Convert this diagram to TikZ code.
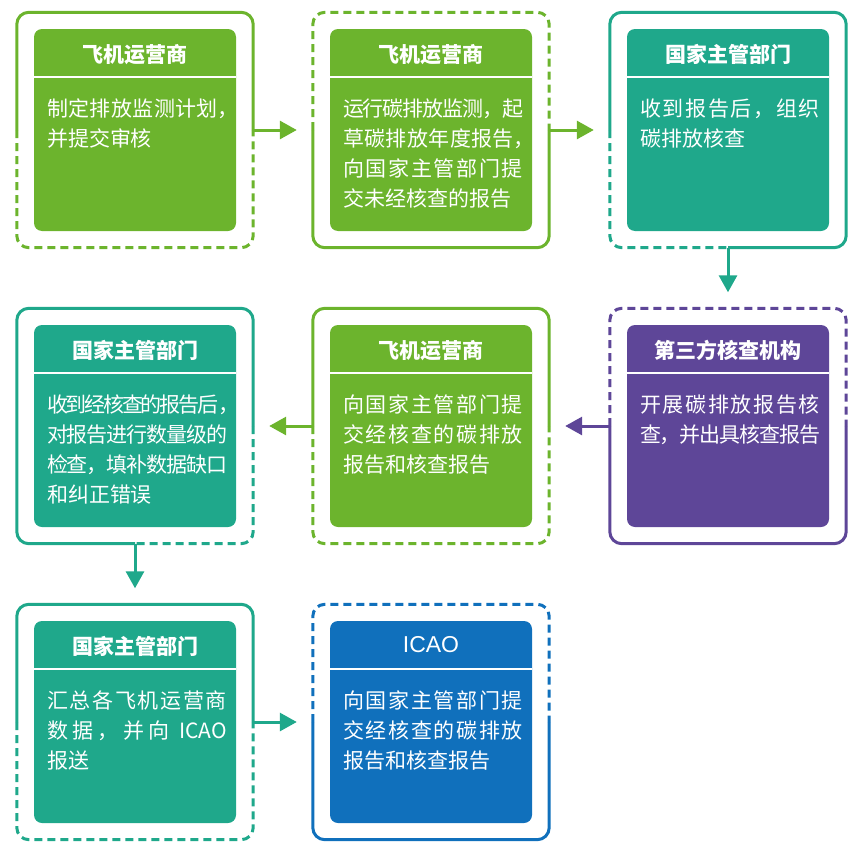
\documentclass[tikz,border=0pt]{standalone}
\usepackage{fontspec}
\usepackage{tikz}
\usetikzlibrary{positioning,arrows.meta}
\newfontfamily\cjk{Noto Sans CJK SC}
\newfontfamily\latin{Liberation Sans}
\definecolor{cgreen}{HTML}{6CB42D}
\definecolor{cteal}{HTML}{1FA88B}
\definecolor{cpurple}{HTML}{5E4698}
\definecolor{cblue}{HTML}{1070BC}
% glue between CJK characters, so lines can be justified
\newcount\cjkcode
\cjkcode="4E00
\loop
  \XeTeXcharclass\cjkcode=1
  \advance\cjkcode by 1
\ifnum\cjkcode<"A000 \repeat
\XeTeXcharclass"FF0C=3
\XeTeXinterchartoks 1 1 = {\hskip 0pt plus 2pt minus 3pt}
\XeTeXinterchartoks 1 3 = {\hskip 0pt plus 2pt minus 3pt}
\XeTeXinterchartoks 3 1 = {\hskip 0pt plus 2pt minus 3pt}
\newcommand{\jl}[1]{\makebox[180pt][s]{#1}}
\newcommand{\hc}{\makebox[9pt][l]{，}}

\begin{document}
\XeTeXinterchartokenstate=1
\begin{tikzpicture}[x=1pt,y=-1pt,
  outer/.style={minimum width=236pt,minimum height=235pt,inner sep=0pt},
  inner/.style={rounded corners=8pt,minimum width=202pt,minimum height=202pt,inner sep=0pt},
  frame/.style={line width=3pt,rounded corners=12pt},
  dashframe/.style={frame,dash pattern=on 8pt off 5pt},
  title/.style={text=white,font=\cjk\bfseries\fontsize{21}{24}\selectfont,inner sep=0pt},
  body/.style={text=white,font=\cjk\fontsize{21}{30}\selectfont,align=left,inner sep=0pt,anchor=north west},
  sepline/.style={white,line width=1.5pt},
  link/.style={line width=3pt,-{Triangle[length=17pt,width=18pt]}}]
  \useasboundingbox (0,0) rectangle (868,862);

  \node[outer] (o1) at (135,130) {};
  \node[outer] (o2) at (431,130) {};
  \node[outer] (o3) at (728,130) {};
  \node[outer] (o4) at (135,426) {};
  \node[outer] (o5) at (431,426) {};
  \node[outer] (o6) at (728,426) {};
  \node[outer] (o7) at (135,722) {};
  \node[outer] (o8) at (431,722) {};

  % row 1
  \node[inner,fill=cgreen] (i1) at (o1) {};
  \node[title] (t1) at ([yshift=-25.5pt]i1.north) {飞机运营商};
  \draw[sepline] ([yshift=-48pt]i1.north west) -- ([yshift=-48pt]i1.north east);
  \node[body] (b1) at ([xshift=13pt,yshift=-70pt]i1.north west) {\jl{制定排放监测计划\hc}\\并提交审核};
  \draw[frame,cgreen] (o1.west) |- (o1.north) -| (o1.east);
  \draw[dashframe,cgreen] (o1.west) |- (o1.south) -| (o1.east);

  \node[inner,fill=cgreen] (i2) at (o2) {};
  \node[title] (t2) at ([yshift=-25.5pt]i2.north) {飞机运营商};
  \draw[sepline] ([yshift=-48pt]i2.north west) -- ([yshift=-48pt]i2.north east);
  \node[body] (b2) at ([xshift=13pt,yshift=-70pt]i2.north west) {\jl{运行碳排放监测，起}\\\jl{草碳排放年度报告\hc}\\\jl{向国家主管部门提}\\交未经核查的报告};
  \draw[dashframe,cgreen] (o2.west) |- (o2.north) -| (o2.east);
  \draw[frame,cgreen] (o2.west) |- (o2.south) -| (o2.east);

  \node[inner,fill=cteal] (i3) at (o3) {};
  \node[title] (t3) at ([yshift=-25.5pt]i3.north) {国家主管部门};
  \draw[sepline] ([yshift=-48pt]i3.north west) -- ([yshift=-48pt]i3.north east);
  \node[body] (b3) at ([xshift=13pt,yshift=-70pt]i3.north west) {\jl{收到报告后，组织}\\碳排放核查};
  \draw[frame,cteal] (o3.west) |- (o3.north) -| (o3.east) |- (o3.south);
  \draw[dashframe,cteal] (o3.west) |- (o3.south);

  % row 2
  \node[inner,fill=cteal] (i4) at (o4) {};
  \node[title] (t4) at ([yshift=-25.5pt]i4.north) {国家主管部门};
  \draw[sepline] ([yshift=-48pt]i4.north west) -- ([yshift=-48pt]i4.north east);
  \node[body] (b4) at ([xshift=13pt,yshift=-70pt]i4.north west) {\jl{收到经核查的报告后\hc}\\\jl{对报告进行数量级的}\\\jl{检查，填补数据缺口}\\和纠正错误};
  \draw[frame,cteal] (o4.east) |- (o4.north) -| (o4.west) |- (o4.south);
  \draw[dashframe,cteal] (o4.east) |- (o4.south);

  \node[inner,fill=cgreen] (i5) at (o5) {};
  \node[title] (t5) at ([yshift=-25.5pt]i5.north) {飞机运营商};
  \draw[sepline] ([yshift=-48pt]i5.north west) -- ([yshift=-48pt]i5.north east);
  \node[body] (b5) at ([xshift=13pt,yshift=-70pt]i5.north west) {\jl{向国家主管部门提}\\\jl{交经核查的碳排放}\\报告和核查报告};
  \draw[frame,cgreen] (o5.west) |- (o5.north) -| (o5.east);
  \draw[dashframe,cgreen] (o5.west) |- (o5.south) -| (o5.east);

  \node[inner,fill=cpurple] (i6) at (o6) {};
  \node[title] (t6) at ([yshift=-25.5pt]i6.north) {第三方核查机构};
  \draw[sepline] ([yshift=-48pt]i6.north west) -- ([yshift=-48pt]i6.north east);
  \node[body] (b6) at ([xshift=13pt,yshift=-70pt]i6.north west) {\jl{开展碳排放报告核}\\\jl{查，并出具核查报告}};
  \draw[dashframe,cpurple] (o6.west) |- (o6.north) -| (o6.east);
  \draw[frame,cpurple] (o6.west) |- (o6.south) -| (o6.east);

  % row 3
  \node[inner,fill=cteal] (i7) at (o7) {};
  \node[title] (t7) at ([yshift=-25.5pt]i7.north) {国家主管部门};
  \draw[sepline] ([yshift=-48pt]i7.north west) -- ([yshift=-48pt]i7.north east);
  \node[body] (b7) at ([xshift=13pt,yshift=-70pt]i7.north west) {\jl{汇总各飞机运营商}\\\jl{数据，并向 ICAO}\\报送};
  \draw[frame,cteal] (o7.west) |- (o7.north) -| (o7.east);
  \draw[dashframe,cteal] (o7.west) |- (o7.south) -| (o7.east);

  \node[inner,fill=cblue] (i8) at (o8) {};
  \node[title,font=\latin\fontsize{23}{26}\selectfont] (t8) at ([yshift=-24pt]i8.north) {ICAO};
  \draw[sepline] ([yshift=-48pt]i8.north west) -- ([yshift=-48pt]i8.north east);
  \node[body] (b8) at ([xshift=13pt,yshift=-70pt]i8.north west) {\jl{向国家主管部门提}\\\jl{交经核查的碳排放}\\报告和核查报告};
  \draw[dashframe,cblue] (o8.west) |- (o8.north) -| (o8.east);
  \draw[frame,cblue] (o8.west) |- (o8.south) -| (o8.east);

  % arrows
  \draw[link,cgreen] (o1.east) -- ([xshift=-16pt]o2.west);
  \draw[link,cgreen] (o2.east) -- ([xshift=-16pt]o3.west);
  \draw[link,cteal] (o3.south) -- ([yshift=16pt]o6.north);
  \draw[link,cpurple] (o6.west) -- ([xshift=16pt]o5.east);
  \draw[link,cgreen] (o5.west) -- ([xshift=16pt]o4.east);
  \draw[link,cteal] (o4.south) -- ([yshift=16pt]o7.north);
  \draw[link,cteal] (o7.east) -- ([xshift=-16pt]o8.west);
\end{tikzpicture}
\end{document}
